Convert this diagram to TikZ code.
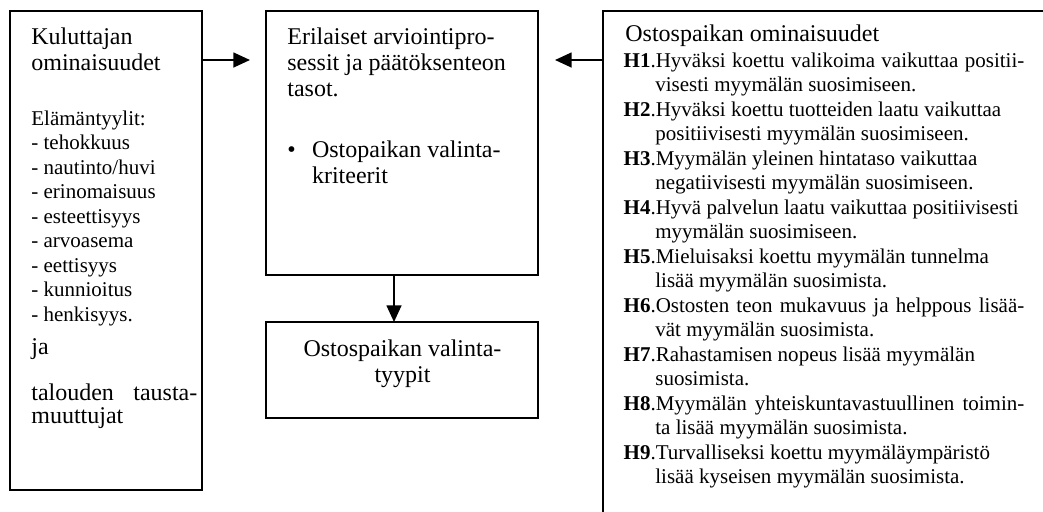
\documentclass[tikz,border=0pt]{standalone}
\usepackage{fontspec}
\setmainfont{Liberation Serif}
\usetikzlibrary{arrows.meta,fit}

% hanging indent of the continuation lines in the hypothesis list
\newcommand\hin{\hspace*{18.1pt}}
% stacked lines whose reference point is the first baseline
\newcommand\leftlines[1]{\vtop{\halign{##\hfil\cr#1\crcr}}}
\newcommand\midlines[1]{\vtop{\halign{\hfil##\hfil\cr#1\crcr}}}

\begin{document}
\begin{tikzpicture}[x=0.571pt,y=-0.571pt,
  frame/.style={draw, line width=1pt, inner sep=0pt, outer sep=0pt},
  big/.style={font=\fontsize{13.7}{14.85}\selectfont},
  small/.style={font=\fontsize{12}{14}\selectfont},
  txt/.style={anchor=base west, inner sep=0pt},
  arr/.style={line width=1pt, -{Triangle[length=9.5pt,width=8.5pt]}}
]
\useasboundingbox (0,0) rectangle (1043,512);
\fill[white] (0,0) rectangle (1043,512);
\clip (0,0) rectangle (1043,512);

% boxes
\node[frame, fit={(10,11) (202,490)}] (kul) {};
\node[frame, fit={(266,11) (538,275)}] (eri) {};
\node[frame, fit={(266,322) (538,418)}] (val) {};
\node[frame, fit={(603,11) (1100,560)}] (ost) {};

% consumer characteristics
\node[txt,big] (kt) at (31,44) {\leftlines{Kuluttajan\cr ominaisuudet}};
\node[txt,small] (kl) at (31,125) {\leftlines{Elämäntyylit:\cr - tehokkuus\cr - nautinto/huvi\cr - erinomaisuus\cr - esteettisyys\cr - arvoasema\cr - eettisyys\cr - kunnioitus\cr - henkisyys.}};
\node[txt,big] (kj) at (31,354) {ja};
\node[txt,font=\fontsize{13.7}{13.7}\selectfont] (kb) at (31,400) {\leftlines{\makebox[94.8pt][s]{talouden tausta-}\cr muuttujat}};

% evaluation processes
\node[txt,big] (et) at (287,44) {\leftlines{Erilaiset arviointipro-\cr sessit ja päätöksenteon\cr tasot.}};
\node[txt,big] (eb) at (287,157) {•};
\node[txt,big] (ek) at (311.7,157) {\leftlines{Ostopaikan valinta-\cr kriteerit}};

% choice types
\node[anchor=base, inner sep=0pt, big] (vt) at (402.5,356) {\midlines{Ostospaikan valinta-\cr tyypit}};

% store characteristics
\node[txt,big] (ot) at (625,41) {Ostospaikan ominaisuudet};
\node[txt,small] (oh) at (623.3,67) {\leftlines{%
\makebox[228.8pt][s]{\textbf{H1}.Hyväksi koettu valikoima vaikuttaa positii-}\cr
\hin visesti myymälän suosimiseen.\cr
\textbf{H2}.Hyväksi koettu tuotteiden laatu vaikuttaa\cr
\hin positiivisesti myymälän suosimiseen.\cr
\textbf{H3}.Myymälän yleinen hintataso vaikuttaa\cr
\hin negatiivisesti myymälän suosimiseen.\cr
\textbf{H4}.Hyvä palvelun laatu vaikuttaa positiivisesti\cr
\hin myymälän suosimiseen.\cr
\textbf{H5}.Mieluisaksi koettu myymälän tunnelma\cr
\hin lisää myymälän suosimista.\cr
\makebox[228.8pt][s]{\textbf{H6}.Ostosten teon mukavuus ja helppous lisää-}\cr
\hin vät myymälän suosimista.\cr
\textbf{H7}.Rahastamisen nopeus lisää myymälän\cr
\hin suosimista.\cr
\makebox[228.8pt][s]{\textbf{H8}.Myymälän yhteiskuntavastuullinen toimin-}\cr
\hin ta lisää myymälän suosimista.\cr
\textbf{H9}.Turvalliseksi koettu myymäläympäristö\cr
\hin lisää kyseisen myymälän suosimista.}};

% connectors
\coordinate (a1) at (250,60);
\coordinate (a2) at (555,60);
\coordinate (a3) at (394,0);
\draw[arr] (kul.east |- a1) -- (a1);
\draw[arr] (ost.west |- a2) -- (a2);
\draw[arr] (eri.south -| a3) -- (val.north -| a3);
\end{tikzpicture}
\end{document}
